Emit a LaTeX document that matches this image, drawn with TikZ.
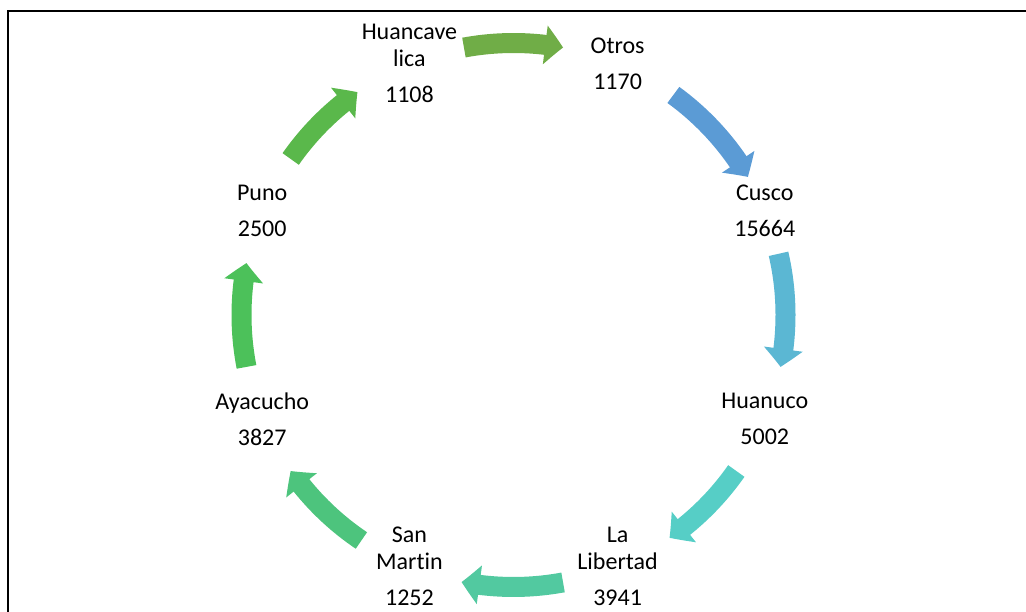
\documentclass[tikz,border=0pt]{standalone}
\usepackage{fontspec}
\setmainfont{Carlito}[Ligatures=NoCommon]
\usetikzlibrary{arrows.meta,bending}
\definecolor{corA}{HTML}{70AD47}
\definecolor{corB}{HTML}{5B9BD5}
\definecolor{corC}{HTML}{5BB7D3}
\definecolor{corD}{HTML}{56CEC6}
\definecolor{corE}{HTML}{52C9A0}
\definecolor{corF}{HTML}{4DC47D}
\definecolor{corG}{HTML}{4CC15A}
\definecolor{corH}{HTML}{5AB84B}
\begin{document}
\begin{tikzpicture}[x=1pt,y=1pt]
		\tikzset{dep/.style={align=center,inner sep=0pt,font=\fontsize{24}{27}\selectfont},
			seta/.style={line width=20pt,-{Triangle[width=38pt,length=18pt,bend]}}}
		\useasboundingbox (0,0) rectangle (1026,612);
		\draw[line width=2pt] (7.5,0) -- (7.5,601) -- (1026,601);
		\coordinate (o) at (513.5,297);

		\node[dep] (otros) at ([shift={(67.5:272)}]o) {Otros\\[9pt]1170};
		\node[dep] (cusco) at ([shift={(22.5:272)}]o) {Cusco\\[9pt]15664};
		\node[dep] (huanuco) at ([shift={(-22.5:272)}]o) {Huanuco\\[9pt]5002};
		\node[dep] (libertad) at ([shift={(-67.5:272)}]o) {La\\Libertad\\[9pt]3941};
		\node[dep] (martin) at ([shift={(-112.5:272)}]o) {San\\Martin\\[9pt]1252};
		\node[dep] (ayacucho) at ([shift={(-157.5:272)}]o) {Ayacucho\\[9pt]3827};
		\node[dep] (puno) at ([shift={(157.5:272)}]o) {Puno\\[9pt]2500};
		\node[dep] (huanca) at ([shift={(112.5:272)}]o) {Huancave\\lica\\[9pt]1108};

		\draw[seta,corA] ([shift={(100.5:272)}]o) arc[start angle=100.5,end angle=79.5,radius=272];
		\draw[seta,corB] ([shift={(54:272)}]o) arc[start angle=54,end angle=30.5,radius=272];
		\draw[seta,corC] ([shift={(13:272)}]o) arc[start angle=13,end angle=-11,radius=272];
		\draw[seta,corD] ([shift={(-35:272)}]o) arc[start angle=-35,end angle=-55,radius=272];
		\draw[seta,corE] ([shift={(-79.5:272)}]o) arc[start angle=-79.5,end angle=-101,radius=272];
		\draw[seta,corF] ([shift={(-124:272)}]o) arc[start angle=-124,end angle=-145,radius=272];
		\draw[seta,corG] ([shift={(191:272)}]o) arc[start angle=191,end angle=169,radius=272];
		\draw[seta,corH] ([shift={(145:272)}]o) arc[start angle=145,end angle=125,radius=272];
\end{tikzpicture}
\end{document}
